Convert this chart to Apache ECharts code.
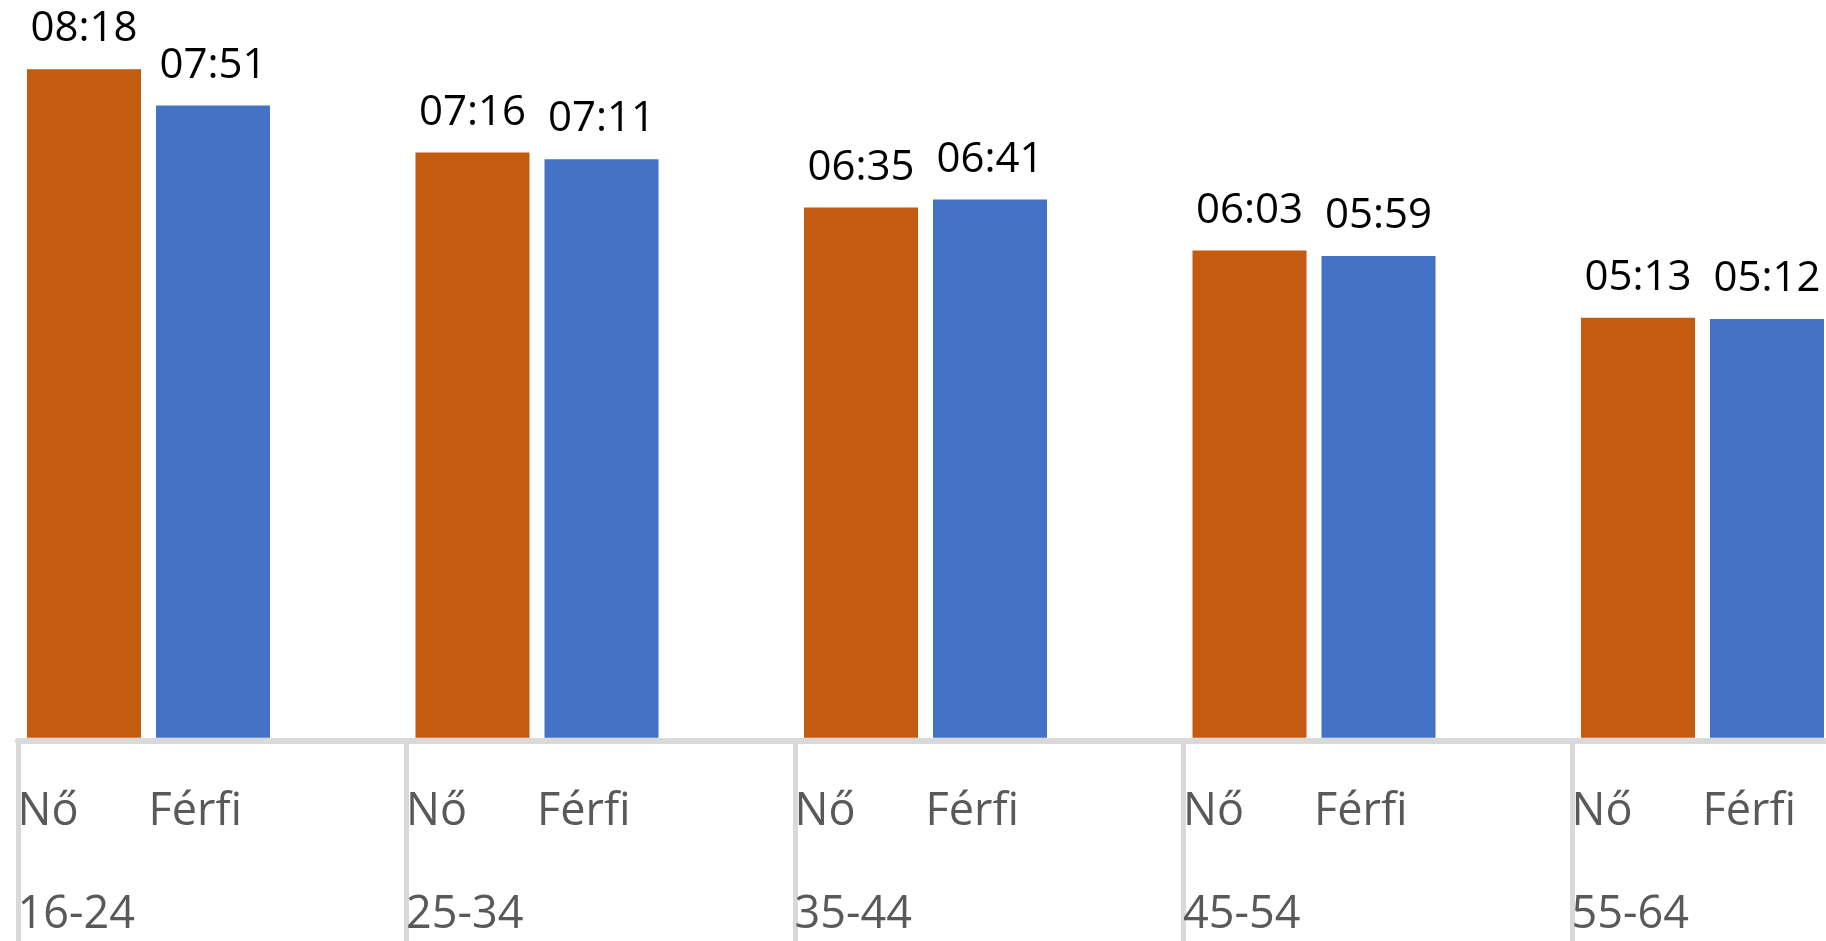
<!DOCTYPE html>
<html>
<head>
<meta charset="utf-8">
<script src="https://cdn.jsdelivr.net/npm/echarts@6/dist/echarts.min.js"></script>
<style>
html,body{margin:0;padding:0;background:#fff;}
#chart{width:1826px;height:941px;}
</style>
</head>
<body>
<div id="chart"></div>
<script>
// ---- data ----
const ageGroups = ['16-24', '25-34', '35-44', '45-54', '55-64'];
const sexLabels = ['Nő', 'Férfi'];
const noTimes = ['08:18', '07:16', '06:35', '06:03', '05:13'];
const ferfiTimes = ['07:51', '07:11', '06:41', '05:59', '05:12'];

// convert "hh:mm" label text into minutes for the value axis
function toMinutes(t) { const p = t.split(':'); return (+p[0]) * 60 + (+p[1]); }
function toHHMM(v) {
  const h = Math.floor(v / 60), m = Math.round(v - h * 60);
  return String(h).padStart(2, '0') + ':' + String(m).padStart(2, '0');
}
const noValues = noTimes.map(toMinutes);
const ferfiValues = ferfiTimes.map(toMinutes);

const chart = echarts.init(document.getElementById('chart'), null, { renderer: 'canvas' });
const catW = 388.5;
const labelFont = '"Open Sans", "Noto Sans", sans-serif';

const dataLabel = {
  show: true,
  position: 'top',
  distance: 19,
  color: '#000000',
  fontFamily: labelFont,
  fontSize: 42,
  lineHeight: 42,
  formatter: p => toHHMM(p.value)
};

const option = {
  animation: false,
  backgroundColor: '#ffffff',
  grid: [
    { left: -45.75, width: catW * 5, top: 13, bottom: 203.3, containLabel: false, outerBoundsMode: 'none' },
    { left: 18, width: catW * 5, top: 741, height: 200, containLabel: false, outerBoundsMode: 'none' }
  ],
  xAxis: [
    { gridIndex: 0, type: 'category', data: ageGroups, show: false },
    {
      gridIndex: 1, type: 'category', data: ageGroups, position: 'top',
      axisLine: { show: true, onZero: false, lineStyle: { color: '#d9d9d9', width: 6 } },
      axisTick: { show: true, inside: true, length: 200, interval: 0,
                  lineStyle: { color: '#d9d9d9', width: 5 } },
      axisLabel: {
        show: true, inside: true, interval: 0, margin: 20,
        formatter: v => '{a|' + sexLabels[0] + '}{b|' + sexLabels[1] + '}\n{c|' + v + '}',
        rich: {
          a: { width: 131, align: 'left', fontFamily: labelFont, fontSize: 45, lineHeight: 103, color: '#595959' },
          b: { width: 258.5, align: 'left', fontFamily: labelFont, fontSize: 45, lineHeight: 103, color: '#595959' },
          c: { width: 389.5, align: 'left', fontFamily: labelFont, fontSize: 45, lineHeight: 103, color: '#595959' }
        }
      }
    }
  ],
  yAxis: [
    { gridIndex: 0, type: 'value', min: 0, max: 540, show: false },
    { gridIndex: 1, type: 'value', min: 0, max: 1, show: false }
  ],
  series: [
    {
      name: sexLabels[0], type: 'bar', xAxisIndex: 0, yAxisIndex: 0,
      data: noValues, barWidth: 114, barGap: '13.16%',
      itemStyle: { color: '#C55A11' }, label: dataLabel
    },
    {
      name: sexLabels[1], type: 'bar', xAxisIndex: 0, yAxisIndex: 0,
      data: ferfiValues, barWidth: 114, barGap: '13.16%',
      itemStyle: { color: '#4472C4' }, label: dataLabel
    }
  ]
};
chart.setOption(option);
</script>
</body>
</html>
